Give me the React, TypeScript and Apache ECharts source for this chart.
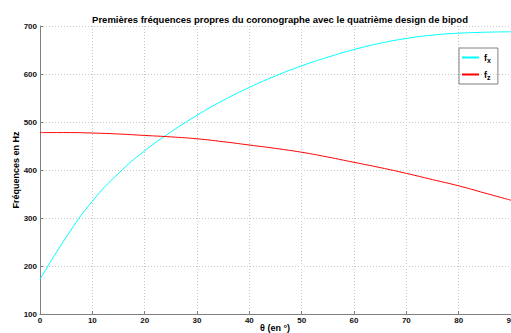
import React, { useEffect, useRef } from "react";
import * as echarts from "echarts";

const theta = [0, 5, 10, 15, 20, 25, 30, 35, 40, 45, 50, 55, 60, 65, 70, 75, 80, 85, 90];
const fx = [172, 260, 335, 393, 440, 479, 514, 545, 572, 596, 617, 635, 651, 664, 674, 681, 685, 687, 688];
const fz = [478, 478, 477, 475, 472, 469, 465, 459, 452, 445, 437, 427, 416, 405, 393, 380, 367, 352, 337];
const seriesNames = ["fx", "fz"];
const subscripts: Record<string, string> = { fx: "x", fz: "z" };
const xTitle = "θ (en °)";
const yTitle = "Fréquences en Hz";

const FONT = "Liberation Sans, Arial, sans-serif";

export default function App() {
  const ref = useRef<HTMLDivElement>(null);
  useEffect(() => {
    const chart = echarts.init(ref.current!, undefined, { renderer: "svg" });
    const pair = (ys: number[]) => theta.map((t, i) => [t, ys[i]]);
    const nameStyle = { fontFamily: FONT, fontSize: 9, fontWeight: "bold", fill: "#000" };
    chart.setOption({
      animation: false,
      backgroundColor: "#ffffff",
      title: {
        text: "Premières fréquences propres du coronographe avec le quatrième design de bipod",
        left: 275,
        textAlign: "center",
        top: 9,
        textStyle: { fontFamily: FONT, fontSize: 9.5, fontWeight: "bold", color: "#000" },
      },
      graphic: [
        {
          type: "text",
          x: 275,
          y: 328,
          style: { ...nameStyle, text: xTitle, align: "center", verticalAlign: "middle" },
        },
        {
          type: "text",
          x: 16,
          y: 170,
          rotation: Math.PI / 2,
          style: { ...nameStyle, text: yTitle, align: "center", verticalAlign: "middle" },
        },
      ],
      grid: { left: 40, top: 26, width: 471, height: 288, containLabel: false, outerBoundsMode: "none" },
      legend: {
        data: seriesNames,
        orient: "vertical",
        left: 459,
        top: 48,
        borderColor: "#808080",
        borderWidth: 1,
        padding: [5, 7, 3, 3],
        itemGap: 6,
        itemWidth: 17,
        itemHeight: 2,
        icon: "rect",
        formatter: (name: string) => `{f|f}{s|${subscripts[name]}}`,
        textStyle: {
          fontFamily: FONT,
          padding: [0, 0, 0, 0],
          rich: {
            f: { fontSize: 9, fontWeight: "bold", color: "#000", fontFamily: FONT },
            s: { fontSize: 7, fontWeight: "bold", color: "#000", fontFamily: FONT, verticalAlign: "bottom", padding: [6, 0, 0, 0] },
          },
        },
      },
      xAxis: {
        type: "value",
        min: 0,
        max: 90,
        interval: 10,
        axisLine: { show: true, lineStyle: { color: "#808080", width: 1 } },
        axisTick: { show: true, inside: true, length: 3, lineStyle: { color: "#808080" } },
        axisLabel: { fontFamily: FONT, fontSize: 8, fontWeight: "bold", color: "#111", margin: 2 },
        splitLine: { show: true, lineStyle: { color: "#c8c8c8", type: [1, 2], width: 1 } },
      },
      yAxis: {
        type: "value",
        min: 100,
        max: 700,
        interval: 100,
        axisLine: { show: true, lineStyle: { color: "#808080", width: 1 } },
        axisTick: { show: true, inside: true, length: 3, lineStyle: { color: "#808080" } },
        axisLabel: { fontFamily: FONT, fontSize: 8, fontWeight: "bold", color: "#111", margin: 3 },
        splitLine: { show: true, lineStyle: { color: "#c8c8c8", type: [1, 2], width: 1 } },
      },
      series: [
        {
          name: "fx",
          type: "line",
          data: pair(fx),
          smooth: 0.5,
          showSymbol: false,
          lineStyle: { color: "#00ffff", width: 1 },
          itemStyle: { color: "#00ffff" },
        },
        {
          name: "fz",
          type: "line",
          data: pair(fz),
          smooth: 0.5,
          showSymbol: false,
          lineStyle: { color: "#ff0000", width: 1 },
          itemStyle: { color: "#ff0000" },
        },
      ],
    });
    return () => chart.dispose();
  }, []);
  return (
    <div
      ref={ref}
      style={{ position: "fixed", left: 0, top: 0, width: 511, height: 333, background: "#fff" }}
    />
  );
}
